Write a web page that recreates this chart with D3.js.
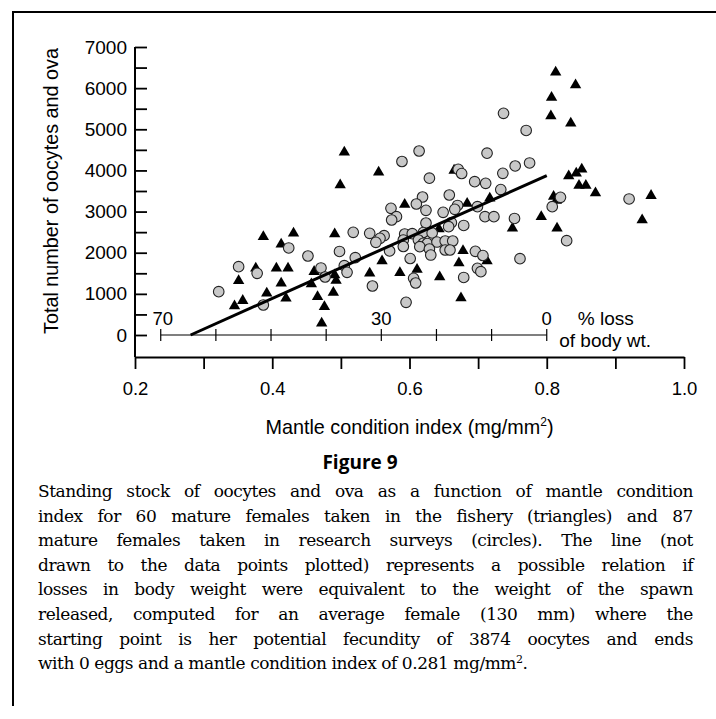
<!DOCTYPE html>
<html><head><meta charset="utf-8">
<script src="https://cdn.jsdelivr.net/npm/d3@7"></script>
<style>body{margin:0;background:#fff}</style>
</head><body><svg id="c" width="716" height="719"></svg>
<script>
// ---- data ----
const fisheryPoints = [[0.505,4440],[0.555,3955],[0.665,4000],[0.499,3646],[0.813,6385],[0.842,6077],[0.807,5773],[0.806,5323],[0.835,5146],[0.832,3865],[0.843,3930],[0.851,4028],[0.847,3634],[0.857,3634],[0.871,3451],[0.810,3366],[0.814,3269],[0.952,3386],[0.792,2875],[0.939,2795],[0.815,2593],[0.387,2389],[0.431,2472],[0.491,2455],[0.413,2205],[0.376,1621],[0.406,1621],[0.423,1621],[0.461,1539],[0.491,1458],[0.351,1320],[0.457,1240],[0.413,1257],[0.489,1033],[0.392,1014],[0.466,931],[0.420,892],[0.357,834],[0.345,705],[0.476,688],[0.472,284],[0.717,3323],[0.593,3172],[0.684,3196],[0.750,2593],[0.643,2576],[0.678,2049],[0.713,1799],[0.560,1799],[0.672,1750],[0.542,1500],[0.586,1514],[0.611,1592],[0.644,1410],[0.493,1325],[0.675,899]];
const surveyPoints = [[0.737,5389],[0.770,4971],[0.614,4472],[0.589,4217],[0.629,3811],[0.713,4419],[0.754,4108],[0.775,4181],[0.736,3930],[0.671,4028],[0.676,3925],[0.695,3726],[0.711,3687],[0.733,3534],[0.820,3347],[0.808,3118],[0.920,3306],[0.829,2292],[0.761,1855],[0.424,2115],[0.452,1920],[0.498,2030],[0.351,1660],[0.378,1500],[0.471,1629],[0.477,1410],[0.322,1052],[0.387,729],[0.619,3354],[0.658,3403],[0.610,3184],[0.670,3148],[0.666,3055],[0.699,3118],[0.573,3080],[0.624,3031],[0.649,2982],[0.581,2875],[0.574,2795],[0.710,2875],[0.723,2875],[0.753,2832],[0.624,2722],[0.661,2730],[0.679,2662],[0.657,2632],[0.518,2496],[0.542,2472],[0.563,2414],[0.557,2350],[0.551,2253],[0.593,2455],[0.604,2462],[0.620,2491],[0.633,2479],[0.591,2309],[0.613,2309],[0.620,2229],[0.626,2224],[0.640,2260],[0.652,2285],[0.663,2285],[0.591,2151],[0.615,2146],[0.629,2090],[0.652,2066],[0.659,2066],[0.631,1944],[0.601,1859],[0.571,2042],[0.521,1879],[0.696,2034],[0.707,1932],[0.505,1684],[0.509,1524],[0.699,1621],[0.704,1539],[0.606,1378],[0.609,1264],[0.679,1398],[0.546,1191],[0.595,795]];
const relationLine = [[0.281,0],[0.8,3874]];
const yTicks = [0,1000,2000,3000,4000,5000,6000,7000];
const yMinorTicks = [500,1500,2500,3500,4500,5500,6500];
const xTicks = [0.2,0.4,0.6,0.8,1.0];
const xMinorTicks = [0.3,0.5,0.7,0.9];
const lossTicks = [70,60,50,40,30,20,10,0];
const lossLabels = [70,30,0];
const lossRangeMCI = [0.2375,0.8];   // MCI at 70% and 0% loss
const yAxisFloor = -535;             // where the y axis meets the x axis
const captionTitle = "Figure 9";
const captionLines = [
 "Standing stock of oocytes and ova as a function of mantle condition",
 "index for 60 mature females taken in the fishery (triangles) and 87",
 "mature females taken in research surveys (circles). The line (not",
 "drawn to the data points plotted) represents a possible relation if",
 "losses in body weight were equivalent to the weight of the spawn",
 "released, computed for an average female (130 mm) where the",
 "starting point is her potential fecundity of 3874 oocytes and ends"
];
const captionLast = ["with 0 eggs and a mantle condition index of 0.281 mg/mm", "2", "."];

// ---- drawing ----
const svg = d3.select("#c");
const SANS = "'Liberation Sans', Arial, Helvetica, sans-serif";
const x = d3.scaleLinear().domain([0.2,1.0]).range([135,684]);
const y = d3.scaleLinear().domain([0,7000]).range([335,47]);

// frame
svg.append("line").attr("x1",13).attr("x2",716).attr("y1",12).attr("y2",12).attr("stroke","#000").attr("stroke-width",2);
svg.append("line").attr("x1",13).attr("x2",13).attr("y1",11).attr("y2",706).attr("stroke","#000").attr("stroke-width",2);

function styleAxis(g, fs){
  g.attr("font-family",SANS).attr("font-size",fs);
  g.selectAll("line").attr("stroke","#000").attr("stroke-width",1.8);
  g.selectAll("text").attr("fill","#000");
}
// y axis
const gy = svg.append("g").attr("transform",`translate(${x(0.2)},0)`);
gy.call(d3.axisLeft(y).tickValues(yTicks).tickSizeInner(-12).tickSizeOuter(0).tickPadding(8).tickFormat(d3.format("d")));
gy.select(".domain").remove();
styleAxis(gy,19);
const gy2 = svg.append("g").attr("transform",`translate(${x(0.2)},0)`);
gy2.call(d3.axisLeft(y).tickValues(yMinorTicks).tickSizeInner(-12).tickSizeOuter(0).tickFormat(""));
gy2.select(".domain").remove();
styleAxis(gy2,19);
svg.append("line").attr("x1",x(0.2)).attr("x2",x(0.2)).attr("y1",y(7000)).attr("y2",y(yAxisFloor)).attr("stroke","#000").attr("stroke-width",2);

// x axis
const gx = svg.append("g").attr("transform",`translate(0,${y(yAxisFloor)})`);
gx.call(d3.axisBottom(x).tickValues(xTicks).tickSizeInner(12).tickSizeOuter(0).tickPadding(13).tickFormat(d3.format(".1f")));
gx.select(".domain").attr("stroke","#000").attr("stroke-width",2);
styleAxis(gx,18.5);
const gx2 = svg.append("g").attr("transform",`translate(0,${y(yAxisFloor)})`);
gx2.call(d3.axisBottom(x).tickValues(xMinorTicks).tickSizeInner(12).tickSizeOuter(0).tickFormat(""));
gx2.select(".domain").remove();
styleAxis(gx2,18.5);

// axis titles
svg.append("text").attr("transform",`translate(58,${(y(7000)+y(0))/2}) rotate(-90)`)
  .attr("text-anchor","middle").attr("font-family",SANS).attr("font-size",19.8)
  .text("Total number of oocytes and ova");
const xt = svg.append("text").attr("x",x(0.6)).attr("y",434).attr("text-anchor","middle")
  .attr("font-family",SANS).attr("font-size",19.8);
xt.append("tspan").text("Mantle condition index (mg/mm");
xt.append("tspan").attr("font-size",12).attr("dy",-8).text("2");
xt.append("tspan").attr("dy",8).text(")");

// % loss scale
const loss = d3.scaleLinear().domain([70,0]).range(lossRangeMCI.map(x));
const gl = svg.append("g").attr("transform",`translate(0,${y(0)})`);
gl.append("line").attr("x1",loss(70)).attr("x2",loss(0)).attr("y1",0).attr("y2",0).attr("stroke","#000").attr("stroke-width",1.2);
gl.selectAll("line.t").data(lossTicks).join("line").attr("class","t")
  .attr("x1",d=>loss(d)).attr("x2",d=>loss(d)).attr("y1",-6).attr("y2",6).attr("stroke","#000").attr("stroke-width",1.2);
gl.selectAll("text.l").data(lossLabels).join("text").attr("class","l")
  .attr("x",d=>loss(d)+(d===70?2:0)).attr("y",-10).attr("text-anchor","middle")
  .attr("font-family",SANS).attr("font-size",18.5).text(d=>d);
gl.append("text").attr("x",loss(0)+31).attr("y",-10.5).attr("font-family",SANS).attr("font-size",19).text("% loss");
gl.append("text").attr("x",loss(0)+12.5).attr("y",11.5).attr("font-family",SANS).attr("font-size",19).text("of body wt.");

// triangles (fishery)
const tri = d3.symbol().type(d3.symbolTriangle).size(56);
svg.append("g").selectAll("path").data(fisheryPoints).join("path")
  .attr("transform",d=>`translate(${x(d[0])},${y(d[1])})`).attr("d",tri).attr("fill","#000");
// circles (surveys)
svg.append("g").selectAll("circle").data(surveyPoints).join("circle")
  .attr("cx",d=>x(d[0])).attr("cy",d=>y(d[1])).attr("r",5.3)
  .attr("fill","#c8c8c8").attr("stroke","#222").attr("stroke-width",1.1);
// relation line
svg.append("path").datum(relationLine)
  .attr("d",d3.line().x(d=>x(d[0])).y(d=>y(d[1])))
  .attr("stroke","#000").attr("stroke-width",3).attr("fill","none");

// caption
svg.append("text").attr("x",360).attr("y",469).attr("text-anchor","middle")
  .attr("font-family","'Open Sans', 'Noto Sans', sans-serif").attr("font-weight","bold").attr("font-size",19)
  .text(captionTitle);
const SERIF = "'DejaVu Serif', 'Liberation Serif', serif";
const CAP_FS = 17;
const cg = svg.append("g").attr("font-family",SERIF).attr("font-size",CAP_FS).attr("fill","#000");
const capX0 = 38, capX1 = 693, capBase = 497, capStep = 24.6;
// letter spacing chosen so the (unjustified) last line has the reference width
const probe = cg.append("text").text(captionLast[0]+captionLast[2]);
const w0 = probe.node().getComputedTextLength(); probe.remove();
const nC = (captionLast[0]+captionLast[2]).length;
const ls = (483 - w0)/nC;
captionLines.forEach((line,i)=>{
  const yb = capBase + i*capStep;
  const words = line.split(" ");
  const ts = words.map(w=>cg.append("text").attr("y",yb).text(w));
  const ws = ts.map((t,j)=>t.node().getComputedTextLength() + ls*words[j].length);
  ts.forEach(t=>t.attr("letter-spacing",ls));
  const gap = (capX1-capX0-d3.sum(ws))/(words.length-1);
  let cx = capX0;
  ts.forEach((t,j)=>{ t.attr("x",cx); cx += ws[j]+gap; });
});
const last = cg.append("text").attr("x",capX0).attr("y",capBase+captionLines.length*capStep).attr("letter-spacing",ls);
last.append("tspan").text(captionLast[0]);
last.append("tspan").attr("font-size",11).attr("dy",-6).text(captionLast[1]);
last.append("tspan").attr("dy",6).text(captionLast[2]);
</script></body></html>
